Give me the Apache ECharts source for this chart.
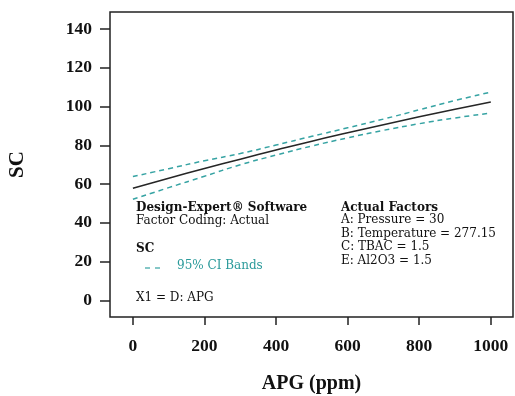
<!DOCTYPE html>
<html>
<head>
<meta charset="utf-8">
<script src="https://cdn.jsdelivr.net/npm/echarts@6/dist/echarts.min.js"></script>
<style>
  html, body { margin: 0; padding: 0; background: #fff; }
  #chart { width: 515px; height: 396px; }
</style>
</head>
<body>
<div id="chart"></div>
<script>
// APG (ppm) sample points
const apg = [0, 100, 200, 300, 400, 500, 600, 700, 800, 900, 1000];
// Predicted SC and its 95% confidence band
const scPredicted = [57.9, 63.1, 68.1, 72.9, 77.6, 82.2, 86.5, 90.7, 94.8, 98.7, 102.4];
const ciUpper     = [63.9, 68.0, 72.1, 75.8, 80.2, 84.7, 89.1, 93.6, 98.4, 103.2, 107.5];
const ciLower     = [52.2, 58.2, 64.1, 70.0, 75.0, 79.7, 83.9, 87.8, 91.2, 94.2, 96.7];
// Axis tick values
const xTicks = [0, 200, 400, 600, 800, 1000];
const yTicks = [0, 20, 40, 60, 80, 100, 120, 140];

const pairs = (ys) => apg.map((x, i) => [x, ys[i]]);

const serif = 'Liberation Serif';
const noteFont = 'DejaVu Serif';
const teal = '#36a3a3';

const chart = echarts.init(document.getElementById('chart'), null, { renderer: 'canvas' });

const note = (text, x, y, opts) => ({
  type: 'text', left: x, top: y, silent: true,
  style: Object.assign({ text: text, font: '12px "' + noteFont + '"', fill: '#111' }, opts || {})
});
const boldNote = 'bold 12px "' + noteFont + '"';

chart.setOption({
  animation: false,
  grid: {
    left: 110, right: 2, top: 12, bottom: 79,
    outerBoundsMode: 'none', containLabel: false,
    show: true, borderColor: '#222', borderWidth: 1.5, backgroundColor: 'transparent'
  },
  xAxis: {
    type: 'value', min: -64, max: 1062,
    name: 'APG (ppm)', nameLocation: 'middle', nameGap: 57,
    nameTextStyle: { fontFamily: serif, fontWeight: 'bold', fontSize: 20, color: '#111' },
    axisLine: { show: false, onZero: false },
    splitLine: { show: false },
    axisTick: { show: true, inside: false, length: 8, customValues: xTicks,
      lineStyle: { color: '#222', width: 1.5 } },
    axisLabel: { customValues: xTicks, margin: 20, formatter: (v) => String(v),
      fontFamily: serif, fontWeight: 'bold', fontSize: 17.5, color: '#111' }
  },
  yAxis: {
    type: 'value', min: -8.6, max: 148.9,
    name: 'SC', nameLocation: 'middle', nameGap: 82, nameRotate: 90,
    nameTextStyle: { fontFamily: serif, fontWeight: 'bold', fontSize: 21, color: '#111' },
    axisLine: { show: false, onZero: false },
    splitLine: { show: false },
    axisTick: { show: true, inside: false, length: 10, customValues: yTicks,
      lineStyle: { color: '#222', width: 1.5 } },
    axisLabel: { customValues: yTicks, margin: 18, formatter: (v) => String(v),
      fontFamily: serif, fontWeight: 'bold', fontSize: 17.5, color: '#111' }
  },
  series: [
    {
      name: 'SC', type: 'line', data: pairs(scPredicted), showSymbol: false, smooth: true,
      lineStyle: { color: '#262626', width: 1.6 }, z: 3
    },
    {
      name: 'Upper 95% CI', type: 'line', data: pairs(ciUpper), showSymbol: false, smooth: true,
      lineStyle: { color: teal, width: 1.5, type: [5, 4] }
    },
    {
      name: 'Lower 95% CI', type: 'line', data: pairs(ciLower), showSymbol: false, smooth: true,
      lineStyle: { color: teal, width: 1.5, type: [5, 4] }
    }
  ],
  graphic: [
    note('Design-Expert® Software', 136, 202, { font: boldNote }),
    note('Factor Coding: Actual', 136, 215),
    note('SC', 136, 243, { font: boldNote }),
    {
      type: 'line', silent: true,
      shape: { x1: 145, y1: 268, x2: 163, y2: 268 },
      style: { stroke: teal, lineWidth: 1.2, lineDash: [5, 5] }
    },
    note('95% CI Bands', 177, 260, { fill: '#2a9a9a' }),
    note('X1 = D: APG', 136, 292),
    note('Actual Factors', 341, 202, { font: boldNote }),
    note('A: Pressure = 30', 341, 214),
    note('B: Temperature = 277.15', 341, 227.5),
    note('C: TBAC = 1.5', 341, 241),
    note('E: Al2O3 = 1.5', 341, 254.5)
  ]
});
</script>
</body>
</html>
